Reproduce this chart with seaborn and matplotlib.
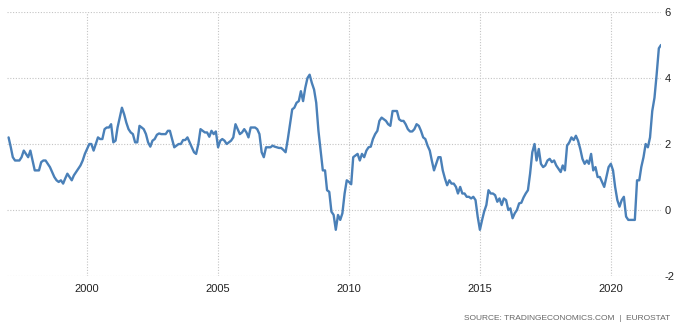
import matplotlib
matplotlib.use("Agg")
import matplotlib.pyplot as plt
import numpy as np
import pandas as pd
import seaborn as sns

# Euro area annual inflation rate (%), monthly, Jan 1997 - Dec 2021
start_month = "1997-01-01"
monthly_rate = [
    2.2, 1.9, 1.6, 1.5, 1.5, 1.5, 1.6, 1.8, 1.7, 1.6, 1.8, 1.5,        # 1997
    1.2, 1.2, 1.2, 1.45, 1.5, 1.5, 1.4, 1.3, 1.15, 1.0, 0.9, 0.85,     # 1998
    0.9, 0.8, 0.95, 1.1, 1.0, 0.9, 1.05, 1.15, 1.25, 1.35, 1.5, 1.7,   # 1999
    1.85, 2.0, 2.0, 1.8, 2.0, 2.2, 2.15, 2.15, 2.45, 2.5, 2.5, 2.6,    # 2000
    2.05, 2.1, 2.5, 2.8, 3.1, 2.9, 2.65, 2.45, 2.35, 2.3, 2.05, 2.05,  # 2001
    2.55, 2.5, 2.45, 2.3, 2.05, 1.92, 2.1, 2.15, 2.28, 2.32, 2.3, 2.3, # 2002
    2.3, 2.4, 2.4, 2.15, 1.9, 1.95, 2.0, 2.0, 2.12, 2.12, 2.2, 2.05,   # 2003
    1.9, 1.75, 1.7, 2.0, 2.45, 2.4, 2.35, 2.35, 2.22, 2.4, 2.3, 2.38,  # 2004
    1.9, 2.1, 2.15, 2.1, 2.0, 2.05, 2.1, 2.2, 2.6, 2.45, 2.3, 2.35,    # 2005
    2.45, 2.35, 2.2, 2.5, 2.5, 2.5, 2.45, 2.3, 1.75, 1.6, 1.9, 1.9,    # 2006
    1.9, 1.95, 1.92, 1.9, 1.88, 1.88, 1.82, 1.75, 2.15, 2.6, 3.05, 3.1, # 2007
    3.25, 3.3, 3.6, 3.3, 3.7, 4.0, 4.1, 3.85, 3.65, 3.25, 2.4, 1.8,    # 2008
    1.2, 1.2, 0.6, 0.55, -0.05, -0.15, -0.6, -0.15, -0.3, -0.1, 0.5, 0.9, # 2009
    0.85, 0.78, 1.6, 1.65, 1.7, 1.5, 1.7, 1.6, 1.8, 1.9, 1.92, 2.15,   # 2010
    2.3, 2.4, 2.7, 2.8, 2.75, 2.7, 2.6, 2.55, 3.0, 3.0, 3.0, 2.75,     # 2011
    2.7, 2.7, 2.6, 2.45, 2.38, 2.38, 2.45, 2.6, 2.55, 2.4, 2.2, 2.15,  # 2012
    1.95, 1.8, 1.5, 1.2, 1.4, 1.6, 1.6, 1.2, 0.95, 0.75, 0.9, 0.8,     # 2013
    0.8, 0.7, 0.5, 0.7, 0.5, 0.5, 0.4, 0.4, 0.35, 0.4, 0.3, -0.2,      # 2014
    -0.6, -0.3, -0.05, 0.15, 0.6, 0.5, 0.5, 0.45, 0.25, 0.35, 0.15, 0.35, # 2015
    0.3, 0.0, 0.05, -0.25, -0.1, 0.0, 0.2, 0.22, 0.38, 0.5, 0.6, 1.1,  # 2016
    1.75, 2.0, 1.5, 1.85, 1.4, 1.3, 1.35, 1.5, 1.55, 1.45, 1.5, 1.35,  # 2017
    1.25, 1.15, 1.35, 1.2, 1.95, 2.05, 2.2, 2.12, 2.25, 2.1, 1.85, 1.55, # 2018
    1.4, 1.5, 1.4, 1.7, 1.2, 1.3, 1.0, 1.0, 0.85, 0.7, 1.0, 1.3,       # 2019
    1.4, 1.2, 0.7, 0.3, 0.1, 0.3, 0.4, -0.2, -0.3, -0.3, -0.3, -0.3,   # 2020
    0.9, 0.9, 1.3, 1.6, 2.0, 1.9, 2.2, 3.0, 3.4, 4.1, 4.9, 5.0,        # 2021
]
year_ticks = [2000, 2005, 2010, 2015, 2020]
y_ticks = [-2, 0, 2, 4, 6]
source_text = "SOURCE: TRADINGECONOMICS.COM  |  EUROSTAT"

df = pd.DataFrame({
    "date": pd.date_range(start_month, periods=len(monthly_rate), freq="MS"),
    "rate": monthly_rate,
})

sns.set_theme(style="white")
plt.rcParams["font.family"] = ["Liberation Sans", "DejaVu Sans"]

fig = plt.figure(figsize=(6.87, 3.32), dpi=100)
ax = fig.add_axes([7 / 687, 1 - 276 / 332, (661 - 7) / 687, (276 - 12) / 332])

sns.lineplot(data=df, x="date", y="rate", ax=ax, color="#4a80b8", linewidth=1.7)

ax.set_ylim(-2, 6)
ax.set_xlim(pd.Timestamp("1996-12-10"), pd.Timestamp("2021-12-01"))
ax.set_yticks(y_ticks)
ax.set_yticklabels([str(v) for v in y_ticks])
ax.set_xticks([pd.Timestamp(f"{y}-01-01") for y in year_ticks])
ax.set_xticklabels([str(y) for y in year_ticks])
ax.yaxis.tick_right()
ax.set_xlabel("")
ax.set_ylabel("")

for s in ax.spines.values():
    s.set_visible(False)
ax.tick_params(axis="both", length=0, labelsize=8, colors="#222222")
ax.tick_params(axis="x", pad=6)
ax.tick_params(axis="y", pad=2.5)
ax.grid(True, linestyle=(0, (1, 1.5)), color="#c4c4c4", linewidth=0.8)

fig.text(670 / 687, 1 - 318 / 332, source_text, ha="right", va="center",
         fontsize=6.0, color="#666666")

fig.savefig("out.png", dpi=100)
